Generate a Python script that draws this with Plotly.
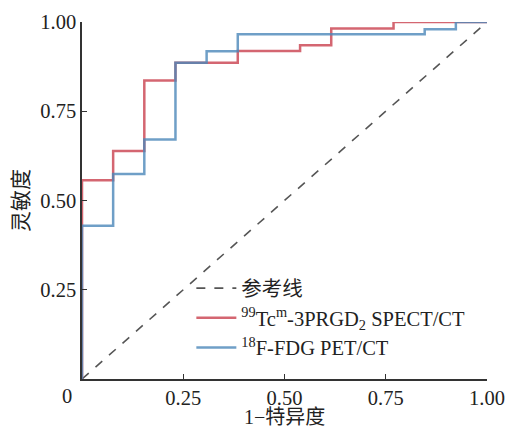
import plotly.graph_objects as go

# Data
ref_x = [0, 1]
ref_y = [0, 1]

spect_fpr = [0, 0, 1/13, 2/13, 3/13, 5/13, 7/13, 8/13, 10/13, 1]
spect_tpr = [0, 0.557, 0.639, 0.836, 0.886, 0.919, 0.935, 0.982, 1.0, 1.0]

pet_fpr = [0, 0, 1/13, 2/13, 3/13, 4/13, 5/13, 11/13, 12/13, 1]
pet_tpr = [0, 0.429, 0.574, 0.671, 0.886, 0.918, 0.966, 0.980, 1.0, 1.0]

x_ticks = [0.25, 0.5, 0.75, 1.0]
x_ticklabels = ["0.25", "0.50", "0.75", "1.00"]
y_ticks = [0.25, 0.5, 0.75, 1.0]
y_ticklabels = ["0.25", "0.50", "0.75", "1.00"]

names = ["参考线", "<sup>99</sup>Tc<sup>m</sup>-3PRGD<sub>2</sub> SPECT/CT", "<sup>18</sup>F-FDG PET/CT"]
x_title = "1−特异度"
y_title = "灵敏度"

FONT = "'Liberation Serif', 'Times New Roman', 'Noto Sans CJK SC', serif"

fig = go.Figure()
fig.add_trace(go.Scatter(x=ref_x, y=ref_y, mode="lines", name=names[0],
                         line=dict(color="#555555", width=1.6, dash="dash")))
fig.add_trace(go.Scatter(x=spect_fpr, y=spect_tpr, mode="lines", name=names[1],
                         line=dict(color="rgba(205,75,88,0.85)", width=2.5, shape="hv")))
fig.add_trace(go.Scatter(x=pet_fpr, y=pet_tpr, mode="lines", name=names[2],
                         line=dict(color="rgba(75,135,185,0.8)", width=2.5, shape="hv")))

fig.update_layout(
    width=507, height=428,
    margin=dict(l=82, r=20, t=22, b=49),
    plot_bgcolor="white", paper_bgcolor="white",
    font=dict(family=FONT, size=20.5, color="#222222"),
    legend=dict(x=0.27, y=0.31, xanchor="left", yanchor="top",
                bgcolor="rgba(0,0,0,0)", font=dict(size=20.5),
                itemwidth=40, tracegroupgap=0),
    showlegend=True,
)
fig.update_xaxes(range=[0, 1], tickvals=x_ticks, ticktext=x_ticklabels,
                 ticks="inside", ticklen=5, tickwidth=1.2, tickcolor="#333",
                 showline=True, linecolor="#333", linewidth=1.5,
                 showgrid=False, zeroline=False, automargin=False)
fig.update_yaxes(range=[0, 1], tickvals=y_ticks, ticktext=y_ticklabels,
                 ticks="inside", ticklen=5, tickwidth=1.2, tickcolor="#333",
                 showline=True, linecolor="#333", linewidth=1.5,
                 showgrid=False, zeroline=False, automargin=False,
                 title=dict(text=y_title, font=dict(size=21), standoff=6))
fig.add_annotation(text=x_title, x=0.5, y=-0.106, xref="paper", yref="paper",
                   xanchor="center", yanchor="middle", showarrow=False,
                   font=dict(size=20))
fig.add_annotation(text="0", x=-0.037, y=-0.01, xref="paper", yref="paper",
                   xanchor="center", yanchor="top", showarrow=False,
                   font=dict(size=20.5))

fig.write_html("out.html", config={"displayModeBar": False},
               post_script="document.body.style.margin='0';document.body.style.overflow='hidden';")
